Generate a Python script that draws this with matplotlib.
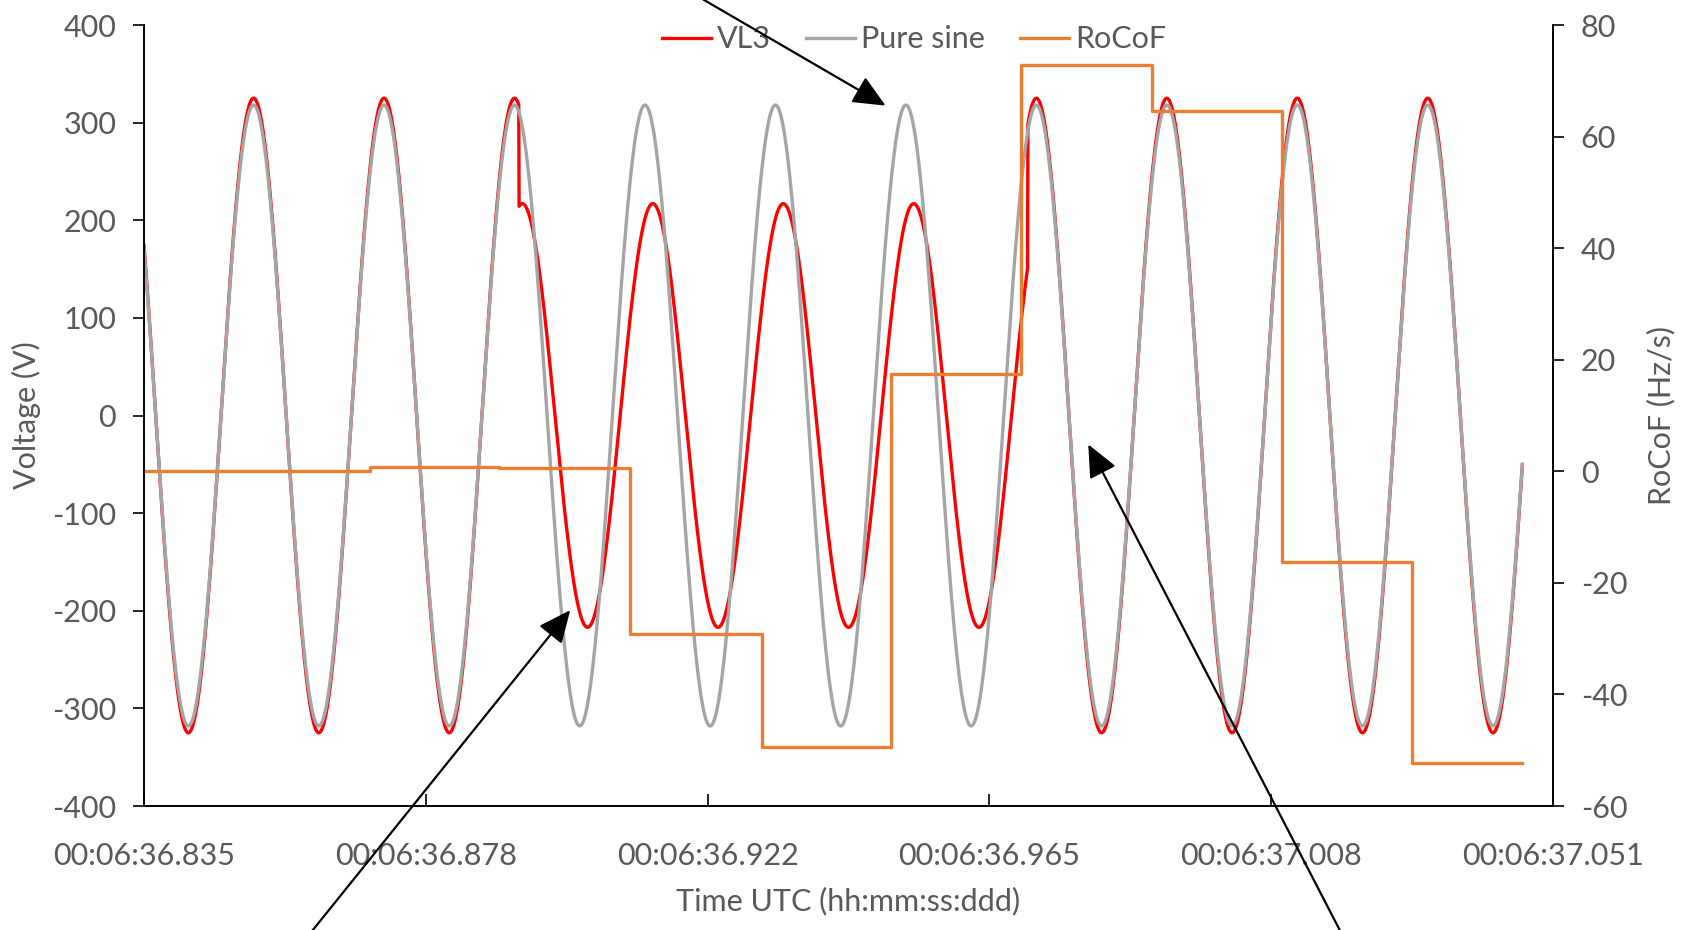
import numpy as np
import matplotlib
matplotlib.use("Agg")
import matplotlib.pyplot as plt

plt.rcParams['font.family'] = ['Lato', 'DejaVu Sans']
plt.rcParams['axes.unicode_minus'] = False

# time axis (ms after 00:06:36.8352)
span_ms = 216.0
tick_labels = ['00:06:36.835', '00:06:36.878', '00:06:36.922',
               '00:06:36.965', '00:06:37.008', '00:06:37.051']
t_end = 211.3

# waveform readings
freq_hz = 50.0
first_peak_ms = 16.8
pure_amp = 318.0
vl3_amp = 325.0
vl3_sag_amp = 217.0
sag_start_ms = 57.5
sag_end_ms = 135.5
sag_lag_ms = 1.2

# RoCoF steps (Hz/s)
rocof_edges = [0, 34.7, 54.4, 74.5, 94.7, 114.5, 134.4, 154.5, 174.5, 194.4, 211.3]
rocof_vals = [0.0, 0.8, 0.6, -29.1, -49.4, 17.4, 72.8, 64.5, -16.3, -52.3]

t = np.arange(0, t_end + 0.01, 0.05)
pure = pure_amp * np.cos(2 * np.pi * freq_hz * (t - first_peak_ms) / 1000)
vl3 = vl3_amp * np.cos(2 * np.pi * freq_hz * (t - first_peak_ms) / 1000)
in_sag = (t >= sag_start_ms) & (t < sag_end_ms)
vl3[in_sag] = vl3_sag_amp * np.cos(2 * np.pi * freq_hz * (t[in_sag] - first_peak_ms - sag_lag_ms) / 1000)

txt = '#595959'
fs = 22
fig = plt.figure(figsize=(16.94, 9.3), dpi=100)
ax = fig.add_axes([144/1694, 1-806/930, (1553-144)/1694, (806-25)/930])
ax2 = ax.twinx()

l1, = ax.plot(t, vl3, color='#FF0000', lw=2.4)
l2, = ax.plot(t, pure, color='#A5A5A5', lw=2.4)
l3, = ax2.step(rocof_edges, rocof_vals + [rocof_vals[-1]], where='post', color='#ED7D31', lw=2.4)

ax.set_xlim(0, span_ms)
ax.set_ylim(-400, 400)
ax2.set_ylim(-60, 80)
ax.set_yticks(np.arange(-400, 401, 100))
ax2.set_yticks(np.arange(-60, 81, 20))
ax.set_xticks(np.linspace(0, span_ms, 6))
ax.set_xticklabels(tick_labels)

for a in (ax, ax2):
    a.spines['top'].set_visible(False)
    for s in ('left', 'right', 'bottom'):
        a.spines[s].set_linewidth(1.2)
        a.spines[s].set_color('black')
ax.tick_params(axis='y', direction='out', length=8, width=1.2, labelsize=fs, labelcolor=txt, pad=12)
ax2.tick_params(axis='y', direction='out', length=8, width=1.2, labelsize=fs, labelcolor=txt, pad=12)
ax.tick_params(axis='x', direction='in', length=9, width=1.2, labelsize=fs, labelcolor=txt, pad=26)

ax.set_ylabel('Voltage (V)', fontsize=fs, color=txt, labelpad=8)
ax2.set_ylabel('RoCoF (Hz/s)', fontsize=fs, color=txt, labelpad=14)
ax.set_xlabel('Time UTC (hh:mm:ss:ddd)', fontsize=fs, color=txt, labelpad=12)

leg = ax2.legend([l1, l2, l3], ['VL3', 'Pure sine', 'RoCoF'], loc='upper left',
                 bbox_to_anchor=(0.357, 1.019), ncol=3, frameon=False, fontsize=fs,
                 borderpad=0, handlelength=1.6, handletextpad=0.2, columnspacing=1.15)
for tx in leg.get_texts():
    tx.set_color(txt)

# annotation arrows (figure pixel coords)
arrows = [((668, 951), (888, 823)),
          ((300, -16), (572, 322)),
          ((1348, -16), (1087, 488))]
for tail, tip in arrows:
    fig.add_artist(matplotlib.patches.FancyArrowPatch(
        tail, tip, transform=None, arrowstyle='-|>,head_length=1.0,head_width=0.45',
        mutation_scale=20, color='black', lw=1.6, clip_on=False))

fig.savefig('out.png', dpi=100)
